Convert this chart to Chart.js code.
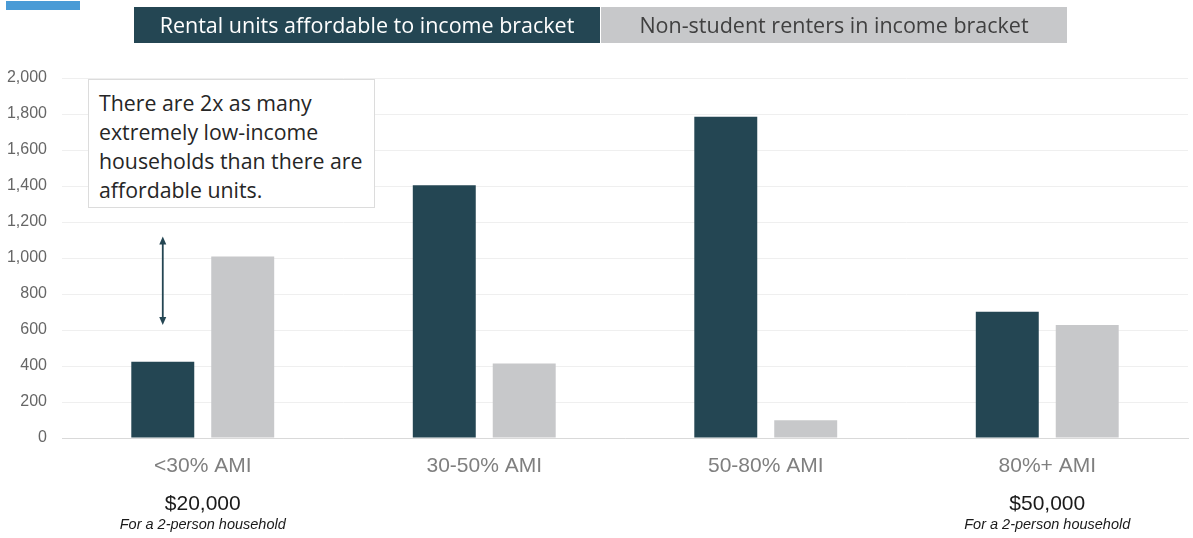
<!DOCTYPE html>
<html>
<head>
<meta charset="utf-8">
<script src="https://cdn.jsdelivr.net/npm/chart.js@4"></script>
<style>
  html, body { margin: 0; padding: 0; background: #fff; }
  #wrap { position: relative; width: 1193px; height: 538px; overflow: hidden; }
  #chart { position: absolute; left: 0; top: 0; }
  .corner { position: absolute; left: 6px; top: 1px; width: 74px; height: 9px; background: #4a9bd6; }
  .legend-box {
    position: absolute; top: 7px; height: 36px; line-height: 36px;
    font-family: "Open Sans", sans-serif; font-size: 21.5px; text-align: center;
  }
  .legend-box.dark  { left: 134px; width: 466px; background: #244653; color: #fff; }
  .legend-box.light { left: 601px; width: 466px; background: #c7c8ca; color: #404040; }
  .note {
    position: absolute; left: 88px; top: 79px; width: 285px; height: 127px;
    border: 1px solid #dcdcdc; background: #fff; box-sizing: content-box;
    font-family: "Open Sans", sans-serif; font-size: 21.3px; line-height: 29px;
    color: #262626; padding: 0;
  }
  .note div { padding: 8px 0 0 10px; white-space: nowrap; }
</style>
</head>
<body>
<div id="wrap">
  <canvas id="chart" width="1193" height="538"></canvas>
  <div class="corner"></div>
  <div class="legend-box dark">Rental units affordable to income bracket</div>
  <div class="legend-box light">Non-student renters in income bracket</div>
  <div class="note"><div>There are 2x as many<br>extremely low-income<br>households than there are<br>affordable units.</div></div>
</div>
<script>
// ── Data ───────────────────────────────────────────────────
const categories      = ["<30% AMI", "30-50% AMI", "50-80% AMI", "80%+ AMI"];
const affordableUnits = [423, 1404, 1785, 702];
const renters         = [1008, 414, 99, 628];
const incomeLabels    = ["$20,000", "", "", "$50,000"];
const incomeNotes     = ["For a 2-person household", "", "", "For a 2-person household"];
const yMax            = 2000;
const yStep           = 200;
const gapArrow        = [628, 1120];   // value span of the double arrow over the first bar

const DARK  = "#244653";
const LIGHT = "#c7c8ca";

// ── Plugins ────────────────────────────────────────────────
const incomePlugin = {
  id: "incomeLabels",
  afterDraw(chart) {
    const ctx = chart.ctx;
    const x = chart.scales.x;
    ctx.save();
    ctx.textAlign = "center";
    ctx.textBaseline = "middle";
    incomeLabels.forEach((lbl, i) => {
      if (!lbl) return;
      const px = x.getPixelForValue(i);
      ctx.fillStyle = "#1a1a1a";
      ctx.font = "21px 'Liberation Sans', Arial, sans-serif";
      ctx.fillText(lbl, px, 504);
      ctx.font = "italic 14.5px 'Liberation Sans', Arial, sans-serif";
      ctx.fillText(incomeNotes[i], px, 525);
    });
    ctx.restore();
  },
};

const arrowPlugin = {
  id: "gapArrow",
  afterDatasetsDraw(chart) {
    const ctx = chart.ctx;
    const y = chart.scales.y;
    const bar = chart.getDatasetMeta(0).data[0];
    const px = bar.x;
    const top = y.getPixelForValue(gapArrow[1]);
    const bot = y.getPixelForValue(gapArrow[0]);
    const head = 8;
    ctx.save();
    ctx.strokeStyle = DARK;
    ctx.fillStyle = DARK;
    ctx.lineWidth = 1.8;
    ctx.beginPath();
    ctx.moveTo(px, top + head - 1);
    ctx.lineTo(px, bot - head + 1);
    ctx.stroke();
    ctx.beginPath();
    ctx.moveTo(px, top);
    ctx.lineTo(px - 3.5, top + head);
    ctx.lineTo(px + 3.5, top + head);
    ctx.closePath();
    ctx.fill();
    ctx.beginPath();
    ctx.moveTo(px, bot);
    ctx.lineTo(px - 3.5, bot - head);
    ctx.lineTo(px + 3.5, bot - head);
    ctx.closePath();
    ctx.fill();
    ctx.restore();
  },
};

// ── Chart ──────────────────────────────────────────────────
new Chart(document.getElementById("chart"), {
  type: "bar",
  data: {
    labels: categories,
    datasets: [
      { label: "Rental units affordable to income bracket", data: affordableUnits, backgroundColor: DARK },
      { label: "Non-student renters in income bracket",     data: renters,         backgroundColor: LIGHT },
    ],
  },
  options: {
    responsive: false,
    animation: false,
    datasets: { bar: { categoryPercentage: 0.568, barPercentage: 0.7875 } },
    layout: { padding: { top: 78, right: 5, left: 0, bottom: 0 } },
    plugins: { legend: { display: false }, tooltip: { enabled: false } },
    scales: {
      x: {
        grid: { display: false, drawTicks: false },
        border: { color: "#d9d9d9", width: 1 },
        ticks: {
          color: "#7f7f7f",
          padding: 16,
          font: { family: "'Liberation Sans', Arial, sans-serif", size: 21 },
        },
        afterFit(scale) { scale.height = 100; },
      },
      y: {
        min: 0,
        max: yMax,
        grid: { color: "#efefef", drawTicks: false },
        border: { display: false },
        ticks: {
          stepSize: yStep,
          color: "#666",
          padding: 15,
          font: { family: "'Liberation Sans', Arial, sans-serif", size: 16 },
        },
        afterFit(scale) { scale.width = 62; },
      },
    },
  },
  plugins: [incomePlugin, arrowPlugin],
});
</script>
</body>
</html>
